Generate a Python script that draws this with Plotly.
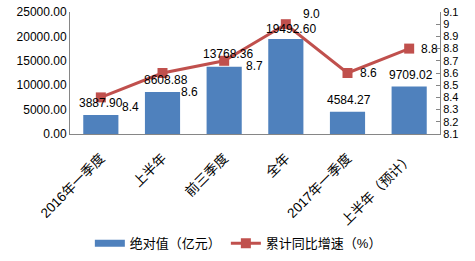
import plotly.graph_objects as go

categories = ["2016年一季度", "上半年", "前三季度", "全年", "2017年一季度", "上半年（预计）"]
absolute_values = [3887.90, 8608.88, 13768.36, 19492.60, 4584.27, 9709.02]
growth_rates = [8.4, 8.6, 8.7, 9.0, 8.6, 8.8]
right_ticks = [8.1, 8.2, 8.3, 8.4, 8.5, 8.6, 8.7, 8.8, 8.9, 9.0, 9.1]
right_tick_text = ["8.1", "8.2", "8.3", "8.4", "8.5", "8.6", "8.7", "8.8", "8.9", "9", "9.1"]

# label offsets (pixels) for the labels, as placed in the original
line_label_shift = [(30, -10), (27, -19), (30, -5), (26, 10), (21, 0), (20, 0)]
bar_label_shift = [(0, 12), (3, 12), (4, 13), (5, 10), (1, 12), (2, 12)]

FONT = "Liberation Sans, Noto Sans CJK SC, sans-serif"
BLUE = "#4F81BD"
RED = "#C0504D"
AXIS = "#868686"

xs = list(range(len(categories)))

fig = go.Figure()
fig.add_trace(go.Bar(
    x=xs, y=absolute_values, name="绝对值（亿元）", showlegend=False,
    marker=dict(color=BLUE, line=dict(width=0)), width=0.57, yaxis="y",
))
# legend stand-in for the bars (wide flat swatch like the original)
fig.add_trace(go.Scatter(
    x=[None], y=[None], name="绝对值（亿元）", mode="lines",
    line=dict(color=BLUE, width=7), yaxis="y",
))
fig.add_trace(go.Scatter(
    x=xs, y=growth_rates, name="累计同比增速（%）", yaxis="y2",
    mode="lines+markers",
    line=dict(color=RED, width=3),
    marker=dict(symbol="square", size=10, color=RED),
))

annotations = []
for i, v in enumerate(absolute_values):
    dx, dy = bar_label_shift[i]
    annotations.append(dict(
        x=i, y=v, xref="x", yref="y", text=f"{v:.2f}", showarrow=False,
        yshift=dy, xshift=dx, font=dict(family=FONT, size=12, color="#000"),
    ))
for i, v in enumerate(growth_rates):
    dx, dy = line_label_shift[i]
    annotations.append(dict(
        x=i, y=v, xref="x", yref="y2", text=f"{v:.1f}", showarrow=False,
        xshift=dx, yshift=dy, font=dict(family=FONT, size=12, color="#000"),
    ))

fig.update_layout(
    width=475, height=261,
    margin=dict(l=70, r=35, t=12, b=127, autoexpand=False),
    paper_bgcolor="white", plot_bgcolor="white",
    font=dict(family=FONT, size=12, color="#000"),
    showlegend=True,
    legend=dict(orientation="h", x=0.455, xanchor="center", y=-0.895, yanchor="middle",
                font=dict(family=FONT, size=13), traceorder="normal"),
    xaxis=dict(
        tickmode="array", tickvals=xs, ticktext=categories, tickangle=-45,
        range=[-0.5, len(categories) - 0.5], automargin=False,
        showline=True, linecolor=AXIS, linewidth=1, ticks="", showgrid=False,
        tickfont=dict(family=FONT, size=13.5), ticklabelstandoff=10,
    ),
    yaxis=dict(
        range=[0, 25000], dtick=5000, tickformat=".2f", automargin=False,
        showline=True, linecolor=AXIS, linewidth=1, ticks="", showgrid=False,
        zeroline=False, tickfont=dict(family=FONT, size=12),
    ),
    yaxis2=dict(
        overlaying="y", side="right", range=[8.1, 9.1], automargin=False,
        tickmode="array", tickvals=right_ticks, ticktext=right_tick_text,
        showline=True, linecolor=AXIS, linewidth=1, ticks="inside", ticklen=4,
        tickcolor=AXIS, showgrid=False, zeroline=False,
        tickfont=dict(family=FONT, size=11),
    ),
    annotations=annotations,
)

fig.write_html("out.html")
